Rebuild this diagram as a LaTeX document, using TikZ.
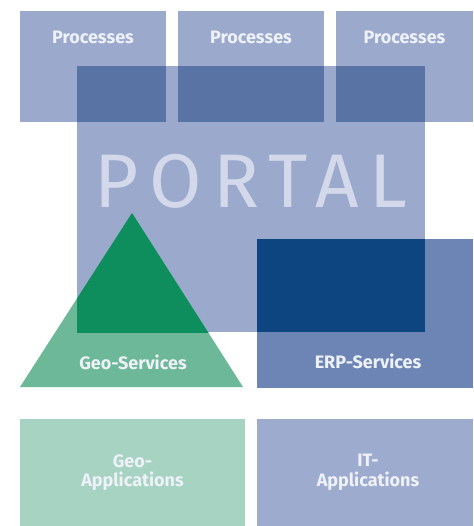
\documentclass[tikz,border=0pt]{standalone}
\usepackage{fontspec}
\setmainfont{Fira Sans}
\usetikzlibrary{positioning}
\definecolor{procblue}{HTML}{9BA9CC}
\definecolor{deepblue}{HTML}{5A73A5}
\definecolor{erpblue}{HTML}{6D85B5}
\definecolor{navyblue}{HTML}{0C4580}
\definecolor{geolight}{HTML}{6CB898}
\definecolor{geodark}{HTML}{0E8D5D}
\definecolor{appgreen}{HTML}{A7D3C3}
\definecolor{appblue}{HTML}{9DABCF}
\definecolor{portaltext}{HTML}{D3D9EB}
\definecolor{lblwhite}{HTML}{EEF1F7}
\tikzset{
  box/.style={draw=none, inner sep=0pt, outer sep=0pt, anchor=north west},
  lbl/.style={text=lblwhite, align=center, inner sep=0pt,
    font=\bfseries\fontsize{18}{19.5}\selectfont},
}
\begin{document}
\begin{tikzpicture}[x=1pt,y=-1pt]
  \useasboundingbox (0,0) rectangle (473,526);
  \fill[white] (0,0) rectangle (473,526);
  % processes on top
  \node[box, fill=procblue, minimum width=146pt, minimum height=111pt] (proc1) at (20,11) {};
  \node[box, fill=procblue, minimum width=146pt, minimum height=111pt] (proc2) at (178,11) {};
  \node[box, fill=procblue, minimum width=137pt, minimum height=111pt] (proc3) at (336,11) {};
  % the portal
  \node[box, fill=procblue, minimum width=348pt, minimum height=266pt] (portal) at (77,66) {};
  \fill[deepblue] (portal.north west) rectangle (proc1.south east);
  \fill[deepblue] (proc2.west |- portal.north) rectangle (proc2.south east);
  \fill[deepblue] (proc3.west |- portal.north) rectangle (portal.east |- proc3.south);
  \node[text=portaltext, inner sep=0pt,
    font=\addfontfeatures{LetterSpace=14.5}\fontsize{76}{80}\selectfont]
    (portaltitle) at (251,181) {PORTAL};
  % services
  \node[box, fill=erpblue, minimum width=216pt, minimum height=149pt] (erp) at (257,239) {};
  \fill[navyblue] (erp.north west) rectangle (portal.south east);
  \coordinate (apex) at (132,213);
  \coordinate (baseleft) at (20,387);
  \coordinate (baseright) at (243,387);
  \fill[geolight] (apex) -- (baseleft) -- (baseright) -- cycle;
  \begin{scope}
    \clip (portal.north west) rectangle (portal.south east);
    \fill[geodark] (apex) -- (baseleft) -- (baseright) -- cycle;
  \end{scope}
  % applications
  \node[box, fill=appgreen, minimum width=225pt, minimum height=107pt] (geoapp) at (20,419) {};
  \node[box, fill=appblue, minimum width=216pt, minimum height=107pt] (itapp) at (257,419) {};
  % labels
  \node[lbl] (proctext1) at (proc1.north |- 0,37) {Processes};
  \node[lbl] (proctext2) at (proc2.north |- 0,37) {Processes};
  \node[lbl] (proctext3) at (proc3.north |- 0,37) {Processes};
  \node[lbl] (geotext) at (133,362) {Geo-Services};
  \node[lbl] (erptext) at (368,361) {ERP-Services};
  \node[lbl] (geoapptext) at (geoapp.center) {Geo-\\Applications};
  \node[lbl] (itapptext) at ([xshift=3pt]itapp.center) {IT-\\Applications};
\end{tikzpicture}
\end{document}
